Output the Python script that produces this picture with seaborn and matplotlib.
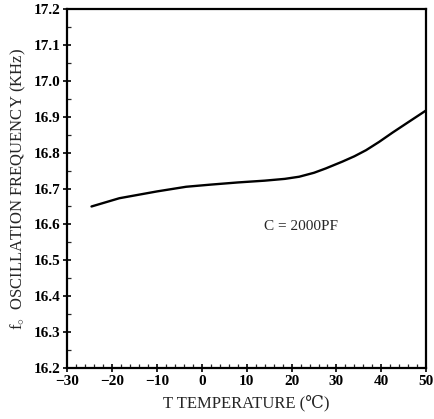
import numpy as np
import pandas as pd
import matplotlib
matplotlib.use("Agg")
import matplotlib.pyplot as plt
import seaborn as sns
from matplotlib.ticker import MultipleLocator

# values
temperature = [-24.6, -18.4, -10.0, -3.5, 2.0, 8.0, 14.0, 18.5, 21.7, 25.0, 27.6, 31.3, 34.0, 36.6, 39.5, 42.5, 46.0, 50.0]
frequency = [16.650, 16.673, 16.692, 16.705, 16.711, 16.717, 16.722, 16.727, 16.733, 16.744, 16.756, 16.775, 16.790, 16.807, 16.830, 16.856, 16.885, 16.918]

df = pd.DataFrame({"T": temperature, "f": frequency})

sns.set_style("ticks")
plt.rcParams["font.family"] = ["Liberation Serif", "DejaVu Serif"]
plt.rcParams["mathtext.fontset"] = "custom"
plt.rcParams["mathtext.rm"] = "Liberation Serif"
plt.rcParams["mathtext.it"] = "Liberation Serif"

fig = plt.figure(figsize=(4.34, 4.19), dpi=100)
ax = fig.add_axes([0.155, 0.122, 0.827, 0.856])

sns.lineplot(data=df, x="T", y="f", color="black", linewidth=1.7, ax=ax)

ax.set_xlim(-30, 50)
ax.set_ylim(16.2, 17.2)
ax.xaxis.set_major_locator(MultipleLocator(10))
ax.xaxis.set_minor_locator(MultipleLocator(2))
ax.yaxis.set_major_locator(MultipleLocator(0.1))
ax.yaxis.set_minor_locator(MultipleLocator(0.05))
ax.yaxis.set_major_formatter(matplotlib.ticker.FormatStrFormatter("%.1f"))

ax.tick_params(which="major", direction="inout", length=6, width=1.2,
               labelsize=11, colors="black", pad=2)
ax.tick_params(which="minor", direction="in", length=3, width=0.9)
for s in ax.spines.values():
    s.set_linewidth(1.6)
    s.set_color("black")

for lbl in ax.get_xticklabels() + ax.get_yticklabels():
    lbl.set_fontweight("bold")

ax.set_xlabel("T TEMPERATURE (℃)", fontsize=12, labelpad=5)
ax.set_ylabel("f$_{\\circ}$  OSCILLATION FREQUENCY (KHz)", fontsize=12, labelpad=4)

ax.text(13.9, 16.595, "C = 2000PF", fontsize=11, ha="left", va="center")

fig.savefig("out.png", dpi=100)
